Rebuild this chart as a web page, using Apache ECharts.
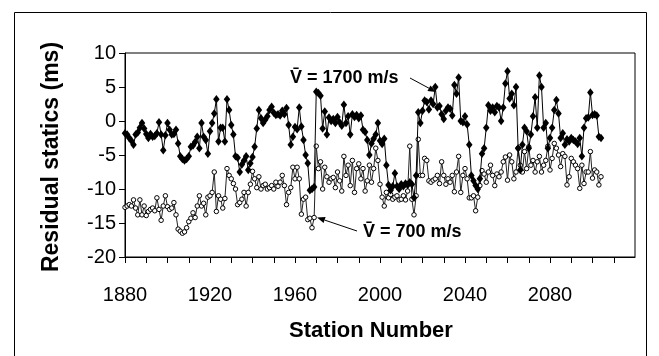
<!DOCTYPE html>
<html><head><meta charset="utf-8">
<script src="https://cdn.jsdelivr.net/npm/echarts@6/dist/echarts.min.js"></script>
<style>html,body{margin:0;padding:0;background:#fff}#c{width:659px;height:356px}</style>
</head><body><div id="c"></div>
<script>
const firstStation = 1880;
const xTickLabels = [1880, 1920, 1960, 2000, 2040, 2080];
const yTicks = [-20, -15, -10, -5, 0, 5, 10];
// Residual statics (ms), V = 1700 m/s (filled diamonds)
const v1700 = [
-1.8,-2.0,-2.5,-2.9,-3.5,-2.0,-1.7,-1.0,-0.3,-1.1,
-1.9,-2.5,-1.9,-2.3,-2.2,-1.8,-0.2,-2.0,-4.3,-2.1,
-0.3,-1.3,-2.0,-1.9,-1.3,-3.3,-5.2,-5.6,-5.8,-5.6,
-5.2,-3.8,-3.6,-3.1,-2.3,-4.0,-0.3,-2.3,-2.8,-4.8,
-1.5,-0.3,1.1,3.2,-3.0,-1.0,-1.0,-3.0,3.2,1.6,
-0.6,-2.0,-5.2,-5.4,-7.5,-6.4,-5.8,-5.2,-7.2,-6.2,
-5.3,-3.8,-1.1,1.6,0.4,-0.3,0.2,0.7,1.6,2.1,
1.2,0.9,1.0,0.8,1.5,1.0,1.9,-0.6,-3.5,-2.3,
-0.9,-1.2,2.0,-0.8,-2.8,-5.0,-6.2,-10.2,-10.0,-9.7,
4.3,4.1,3.7,-1.1,1.4,-2.0,0.5,0.0,0.3,-0.3,
0.6,-0.2,-0.7,2.4,-0.3,0.7,-2.0,1.0,0.6,0.9,
0.4,0.8,-1.3,-1.6,-2.8,-5.0,-3.3,-2.6,-2.0,-0.3,
-2.9,-3.4,-2.6,-6.5,-9.4,-10.2,-9.6,-7.7,-9.6,-10.0,
-9.3,-9.6,-9.2,-9.4,-9.0,-9.3,-11.3,-8.0,1.3,-0.3,
1.5,3.0,2.8,1.7,3.0,2.5,5.0,2.0,2.2,1.0,
0.3,1.5,2.0,1.8,0.8,5.3,4.0,6.4,0.0,-0.2,
0.7,-0.5,-3.5,-8.0,-8.8,-9.5,-10.0,-8.5,-4.8,-4.0,
-1.0,2.3,1.5,2.0,1.3,2.2,2.0,0.0,2.0,5.5,
7.3,3.3,4.0,2.3,5.0,-4.0,-7.2,-3.5,-1.0,-1.5,
-4.0,-2.0,0.7,3.5,-1.0,6.7,5.0,-1.0,-0.3,-4.0,
-2.5,-1.0,1.6,3.1,1.1,-2.5,-1.8,-3.5,-2.7,-3.0,
-2.5,-2.8,-3.0,-3.4,-2.5,-5.2,-1.0,0.4,0.5,4.2,
0.9,1.0,0.8,-2.3,-2.5
];
// Residual statics (ms), V = 700 m/s (open circles)
const v700 = [
-12.7,-12.5,-12.3,-12.5,-11.6,-12.8,-13.8,-11.6,-13.8,-12.5,
-13.9,-13.3,-13.0,-12.8,-13.2,-11.3,-13.0,-14.6,-12.5,-11.0,
-12.6,-13.0,-12.8,-12.0,-13.8,-15.9,-16.2,-16.5,-16.3,-15.7,
-14.8,-14.3,-13.5,-14.2,-12.5,-11.0,-12.5,-12.1,-13.8,-11.2,
-11.0,-10.5,-7.5,-13.3,-11.0,-11.5,-12.8,-11.4,-7.0,-8.0,
-8.5,-9.2,-10.0,-12.3,-12.0,-11.5,-10.5,-12.5,-10.5,-9.3,
-7.4,-8.5,-9.8,-8.2,-10.0,-9.5,-9.3,-10.0,-9.8,-9.5,
-10.0,-9.0,-9.6,-9.0,-8.0,-9.5,-12.3,-10.5,-9.8,-6.8,
-8.5,-6.8,-8.5,-13.7,-11.5,-11.2,-14.5,-14.3,-15.7,-14.2,
-3.7,-7.0,-6.0,-10.0,-6.8,-8.2,-9.0,-8.5,-8.3,-9.8,
-7.5,-8.8,-10.3,-5.2,-8.0,-6.5,-9.5,-5.8,-10.5,-7.0,
-6.3,-8.5,-7.0,-10.3,-8.8,-6.5,-9.0,-7.0,-4.0,-5.8,
-9.3,-11.2,-12.5,-10.5,-11.3,-10.8,-11.5,-11.2,-11.0,-11.6,
-11.5,-11.0,-11.6,-10.3,-3.7,-11.5,-13.8,-11.0,-2.7,-8.0,
-8.0,-5.5,-5.8,-8.8,-9.0,-8.7,-8.5,-8.0,-9.2,-6.0,
-8.0,-9.3,-8.5,-9.0,-8.0,-10.4,-7.5,-5.2,-10.5,-8.0,
-7.0,-8.5,-11.3,-11.3,-11.0,-13.2,-11.2,-9.5,-7.3,-7.8,
-9.0,-7.5,-6.5,-8.0,-9.5,-7.8,-8.2,-7.5,-6.0,-5.3,
-8.7,-5.0,-6.0,-8.5,-7.5,-4.0,-6.5,-7.5,-4.5,-7.0,
-3.8,-6.5,-5.8,-7.5,-6.0,-5.2,-7.5,-6.5,-5.8,-3.7,
-7.2,-5.5,-3.3,-4.0,-5.0,-6.7,-4.8,-5.2,-9.4,-8.2,
-5.5,-6.0,-6.5,-7.0,-9.9,-6.5,-9.2,-7.5,-7.5,-4.5,
-8.4,-7.2,-7.5,-9.4,-8.2
];
const stations = v1700.map((_, i) => firstStation + i);
const d1700 = stations.map((s, i) => [s, v1700[i]]);
const d700 = stations.map((s, i) => [s, v700[i]]);

const FONT = '"Liberation Sans", Arial, sans-serif';
const chart = echarts.init(document.getElementById('c'), null, {renderer: 'canvas'});

function arrow(x1, y1, x2, y2) {
  const dx = x2 - x1, dy = y2 - y1, L = Math.hypot(dx, dy);
  const ux = dx / L, uy = dy / L, hl = 8, hw = 3.2;
  const bx = x2 - ux * hl, by = y2 - uy * hl;
  return [
    {type: 'line', shape: {x1: x1, y1: y1, x2: bx, y2: by}, style: {stroke: '#000', lineWidth: 1}},
    {type: 'polygon', shape: {points: [[x2, y2], [bx - uy * hw, by + ux * hw], [bx + uy * hw, by - ux * hw]]}, style: {fill: '#000'}}
  ];
}

const option = {
  animation: false,
  backgroundColor: '#fff',
  grid: {left: 125, right: 24, top: 53, bottom: 99, show: true, borderColor: '#000', borderWidth: 1, backgroundColor: 'transparent'},
  xAxis: {
    type: 'value', min: 1880, max: 2120, interval: 10,
    axisLine: {onZero: false, lineStyle: {color: '#000', width: 1}},
    axisTick: {show: true, length: 6, lineStyle: {color: '#000'}},
    splitLine: {show: false},
    axisLabel: {
      formatter: v => xTickLabels.includes(v) ? String(v) : '',
      fontSize: 20, color: '#000', margin: 28, fontFamily: FONT, showMaxLabel: false
    }
  },
  yAxis: {
    type: 'value', min: -20, max: 10, interval: 5,
    axisLine: {show: true, onZero: false, lineStyle: {color: '#000', width: 1}},
    axisTick: {show: true, length: 6, lineStyle: {color: '#000'}},
    splitLine: {show: false},
    axisLabel: {fontSize: 20, color: '#000', margin: 9, fontFamily: FONT,
      formatter: v => yTicks.includes(v) ? String(v) : ''}
  },
  series: [
    {
      name: 'V = 700 m/s', type: 'line', data: d700,
      symbol: 'circle', symbolSize: 4.5,
      lineStyle: {color: '#222', width: 1},
      itemStyle: {color: '#fff', borderColor: '#000', borderWidth: 1},
      z: 2
    },
    {
      name: 'V = 1700 m/s', type: 'line', data: d1700,
      symbol: 'diamond', symbolSize: [6.5, 8.5],
      lineStyle: {color: '#000', width: 1},
      itemStyle: {color: '#000', borderColor: '#000', borderWidth: 0},
      z: 3
    }
  ],
  graphic: [
    {type: 'rect', shape: {x: 14.5, y: 12.5, width: 632, height: 360}, style: {fill: 'none', stroke: '#000', lineWidth: 1}, z: -10},
    {type: 'text', x: 52, y: 157, rotation: Math.PI / 2,
      style: {text: 'Residual statics (ms)', font: 'bold 23px ' + FONT, fill: '#000', textAlign: 'center', textVerticalAlign: 'middle'}},
    {type: 'text', x: 371, y: 331,
      style: {text: 'Station Number', font: 'bold 22px ' + FONT, fill: '#000', textAlign: 'center', textVerticalAlign: 'middle'}},
    {type: 'text', x: 290, y: 78,
      style: {text: 'V\u0304 = 1700 m/s', font: 'bold 18px ' + FONT, fill: '#000', textAlign: 'left', textVerticalAlign: 'middle'}},
    {type: 'text', x: 363, y: 232,
      style: {text: 'V\u0304 = 700 m/s', font: 'bold 18px ' + FONT, fill: '#000', textAlign: 'left', textVerticalAlign: 'middle'}},
    ...arrow(410, 78, 436, 92),
    ...arrow(357, 231, 317, 217.5)
  ]
};
chart.setOption(option);
</script>
</body></html>
